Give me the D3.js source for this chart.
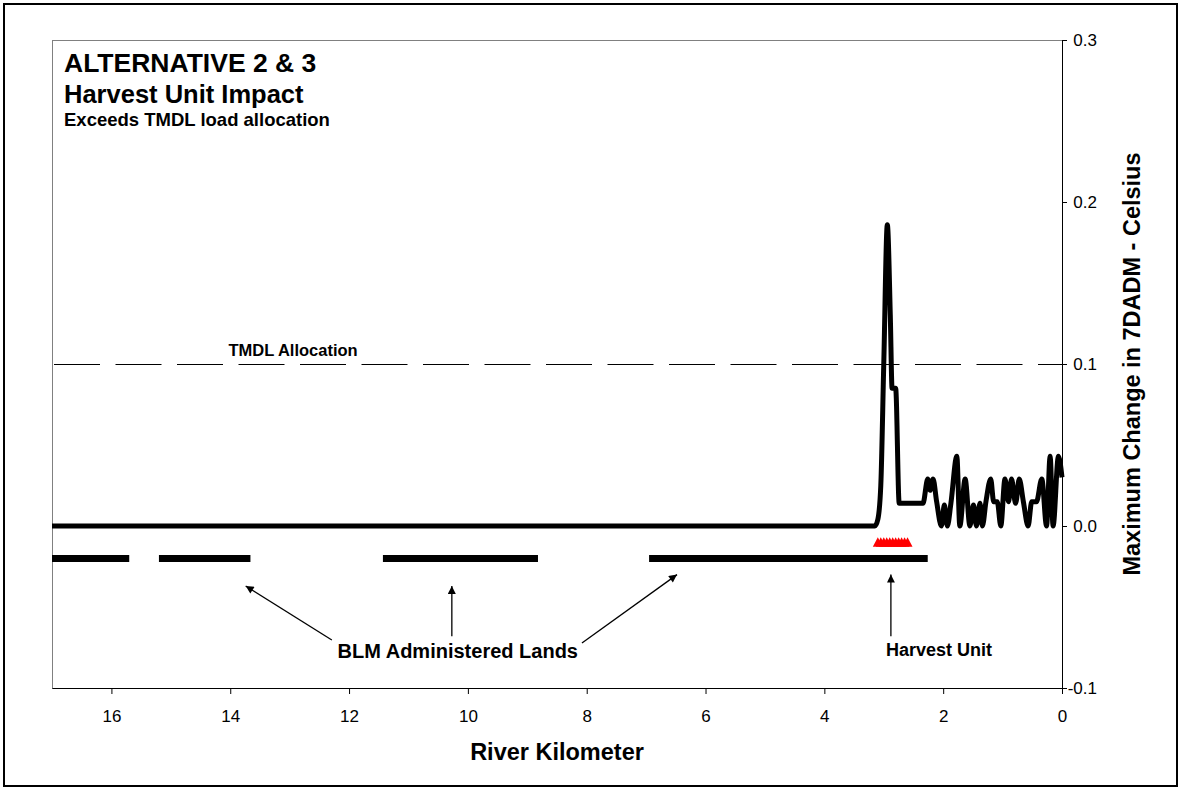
<!DOCTYPE html>
<html>
<head>
<meta charset="utf-8">
<script src="https://cdn.jsdelivr.net/npm/d3@7"></script>
<style>
body { margin: 0; background: #fff; }
svg { font-family: Arial, "Liberation Sans", sans-serif; }
</style>
</head>
<body>
<svg id="chart"></svg>
<script>
// river kilometre (x) and max change in 7DADM (y)
var riverKm = [17.0, 3.15, 3.10, 3.05, 3.00, 2.94, 2.89, 2.86, 2.80, 2.74, 2.34, 2.26, 2.22, 2.17, 2.11,
    2.03, 1.98, 1.93, 1.87, 1.77, 1.72, 1.63, 1.55, 1.49, 1.44, 1.38, 1.34, 1.28, 1.20, 1.15, 1.09,
    1.03, 0.96, 0.90, 0.85, 0.78, 0.72, 0.65, 0.57, 0.51, 0.43, 0.34, 0.26, 0.20, 0.15, 0.06, 0.0];
var maxChange = [0, 0, 0.004, 0.025, 0.10, 0.186, 0.13, 0.085, 0.085, 0.014, 0.014, 0.029, 0.022, 0.029, 0.015,
    0.0, 0.013, 0.0, 0.014, 0.043, 0.0, 0.029, 0.0, 0.013, 0.0, 0.014, 0.0, 0.015, 0.029, 0.015, 0.015,
    0.0, 0.029, 0.015, 0.029, 0.014, 0.029, 0.015, 0.0, 0.015, 0.015, 0.029, 0.0, 0.043, 0.0, 0.043, 0.03];

// BLM administered land reaches (start / end km), drawn at -0.02
var blmStart = [17.0, 15.20, 11.43, 6.95];
var blmEnd = [15.70, 13.66, 8.82, 2.26];
var blmLevel = -0.02;

// harvest unit points, drawn as red triangles at -0.01
var harvestKm = [3.10, 3.05, 3.00, 2.95, 2.90, 2.85, 2.80, 2.75, 2.70, 2.65, 2.60];
var harvestLevel = -0.01;

var tmdlAllocation = 0.1;

var xTicks = [16, 14, 12, 10, 8, 6, 4, 2, 0];
var yTicks = [-0.1, 0.0, 0.1, 0.2, 0.3];

var w = 1181,
    h = 790;

var svg = d3.select("#chart")
    .attr("width", w)
    .attr("height", h)

var x = d3.scaleLinear().domain([17, 0]).range([52, 1062]);
var y = d3.scaleLinear().domain([-0.1, 0.3]).range([688, 40]);

// outer frame
svg.append("rect")
    .attr("x", 4).attr("y", 4)
    .attr("width", 1173).attr("height", 782)
    .attr("fill", "none")
    .attr("stroke", "#000")
    .attr("stroke-width", 2);

// plot area border
svg.append("rect")
    .attr("x", 52.5).attr("y", 40.5)
    .attr("width", 1010).attr("height", 648)
    .attr("fill", "none")
    .attr("stroke", "#808080")
    .attr("stroke-width", 1);

var defs = svg.append("defs");
defs.append("marker")
    .attr("id", "arrow")
    .attr("viewBox", "0 0 10 10")
    .attr("refX", 10).attr("refY", 5)
    .attr("markerWidth", 10).attr("markerHeight", 8)
    .attr("markerUnits", "userSpaceOnUse")
    .attr("orient", "auto")
    .append("path")
    .attr("d", "M0,0L10,5L0,10Z")
    .attr("fill", "#000");

// axes
var yAxis = svg.append("g")
    .attr("transform", "translate(" + x(0) + ",0)")
    .call(d3.axisRight(y).tickValues(yTicks).tickSize(5).tickSizeOuter(0)
        .tickFormat(function(d) { return d.toFixed(1); }));
yAxis.selectAll("text")
    .attr("x", 35)
    .attr("text-anchor", "end")
    .attr("font-size", 17)
    .attr("fill", "#000");

var xAxis = svg.append("g")
    .attr("transform", "translate(0," + y(-0.1) + ")")
    .call(d3.axisBottom(x).tickValues(xTicks).tickSize(6).tickSizeOuter(0).tickPadding(16)
        .tickFormat(d3.format("d")));
xAxis.selectAll("text")
    .attr("font-size", 17)
    .attr("fill", "#000");
svg.selectAll(".domain, .tick line").attr("stroke", "#000");
svg.selectAll(".tick text").attr("font-family", null);

// TMDL allocation reference line
svg.append("line")
    .attr("x1", x(17) + 2).attr("x2", x(0))
    .attr("y1", y(tmdlAllocation) + 0.5).attr("y2", y(tmdlAllocation) + 0.5)
    .attr("stroke", "#000")
    .attr("stroke-width", 1)
    .attr("stroke-dasharray", "46,15.5");

svg.append("text")
    .attr("x", x(14.03)).attr("y", y(0.105))
    .attr("font-size", 16.5).attr("font-weight", "bold")
    .text("TMDL Allocation");

// BLM lands
svg.append("g").selectAll("line")
    .data(blmStart)
    .enter().append("line")
    .attr("x1", function(d) { return x(d); })
    .attr("x2", function(d, i) { return x(blmEnd[i]); })
    .attr("y1", y(blmLevel)).attr("y2", y(blmLevel))
    .attr("stroke", "#000")
    .attr("stroke-width", 7);

// harvest unit
svg.append("g").selectAll("path")
    .data(harvestKm)
    .enter().append("path")
    .attr("transform", function(d) { return "translate(" + x(d) + "," + y(harvestLevel) + ")"; })
    .attr("d", "M0,-5L5,4.6L-5,4.6Z")
    .attr("fill", "#ff0000");

// main series
var series = riverKm.map(function(d, i) { return [d, maxChange[i]]; });
var line = d3.line()
    .x(function(d) { return x(d[0]); })
    .y(function(d) { return y(d[1]); })
    .curve(d3.curveMonotoneX);

svg.append("path")
    .datum(series)
    .attr("d", line)
    .attr("fill", "none")
    .attr("stroke", "#000")
    .attr("stroke-width", 5)
    .attr("stroke-linejoin", "round");

// arrows (km, value)
var arrows = [
    [[12.29, -0.0704], [13.74, -0.037]],
    [[10.27, -0.068], [10.27, -0.037]],
    [[8.08, -0.0722], [6.48, -0.030]],
    [[2.88, -0.068], [2.88, -0.030]]
];
svg.append("g").selectAll("line")
    .data(arrows)
    .enter().append("line")
    .attr("x1", function(d) { return x(d[0][0]); })
    .attr("y1", function(d) { return y(d[0][1]); })
    .attr("x2", function(d) { return x(d[1][0]); })
    .attr("y2", function(d) { return y(d[1][1]); })
    .attr("stroke", "#000")
    .attr("stroke-width", 1.3)
    .attr("marker-end", "url(#arrow)");

svg.append("text")
    .attr("x", x(10.17)).attr("y", y(-0.0815))
    .attr("text-anchor", "middle")
    .attr("font-size", 20).attr("font-weight", "bold")
    .text("BLM Administered Lands");

svg.append("text")
    .attr("x", x(2.07)).attr("y", y(-0.080))
    .attr("text-anchor", "middle")
    .attr("font-size", 18).attr("font-weight", "bold")
    .text("Harvest Unit");

// titles
var title = svg.append("g").attr("font-weight", "bold");
title.append("text").attr("x", 64).attr("y", 72).attr("font-size", 26.5).text("ALTERNATIVE 2 & 3");
title.append("text").attr("x", 64).attr("y", 103).attr("font-size", 25.5).text("Harvest Unit Impact");
title.append("text").attr("x", 64).attr("y", 126).attr("font-size", 18.5).text("Exceeds TMDL load allocation");

svg.append("text")
    .attr("x", (x(17) + x(0)) / 2).attr("y", 760)
    .attr("text-anchor", "middle")
    .attr("font-size", 23.5).attr("font-weight", "bold")
    .text("River Kilometer");

svg.append("text")
    .attr("transform", "translate(1140," + y(0.1) + ") rotate(-90)")
    .attr("text-anchor", "middle")
    .attr("font-size", 23.5).attr("font-weight", "bold")
    .text("Maximum Change in 7DADM - Celsius");
</script>
</body>
</html>
